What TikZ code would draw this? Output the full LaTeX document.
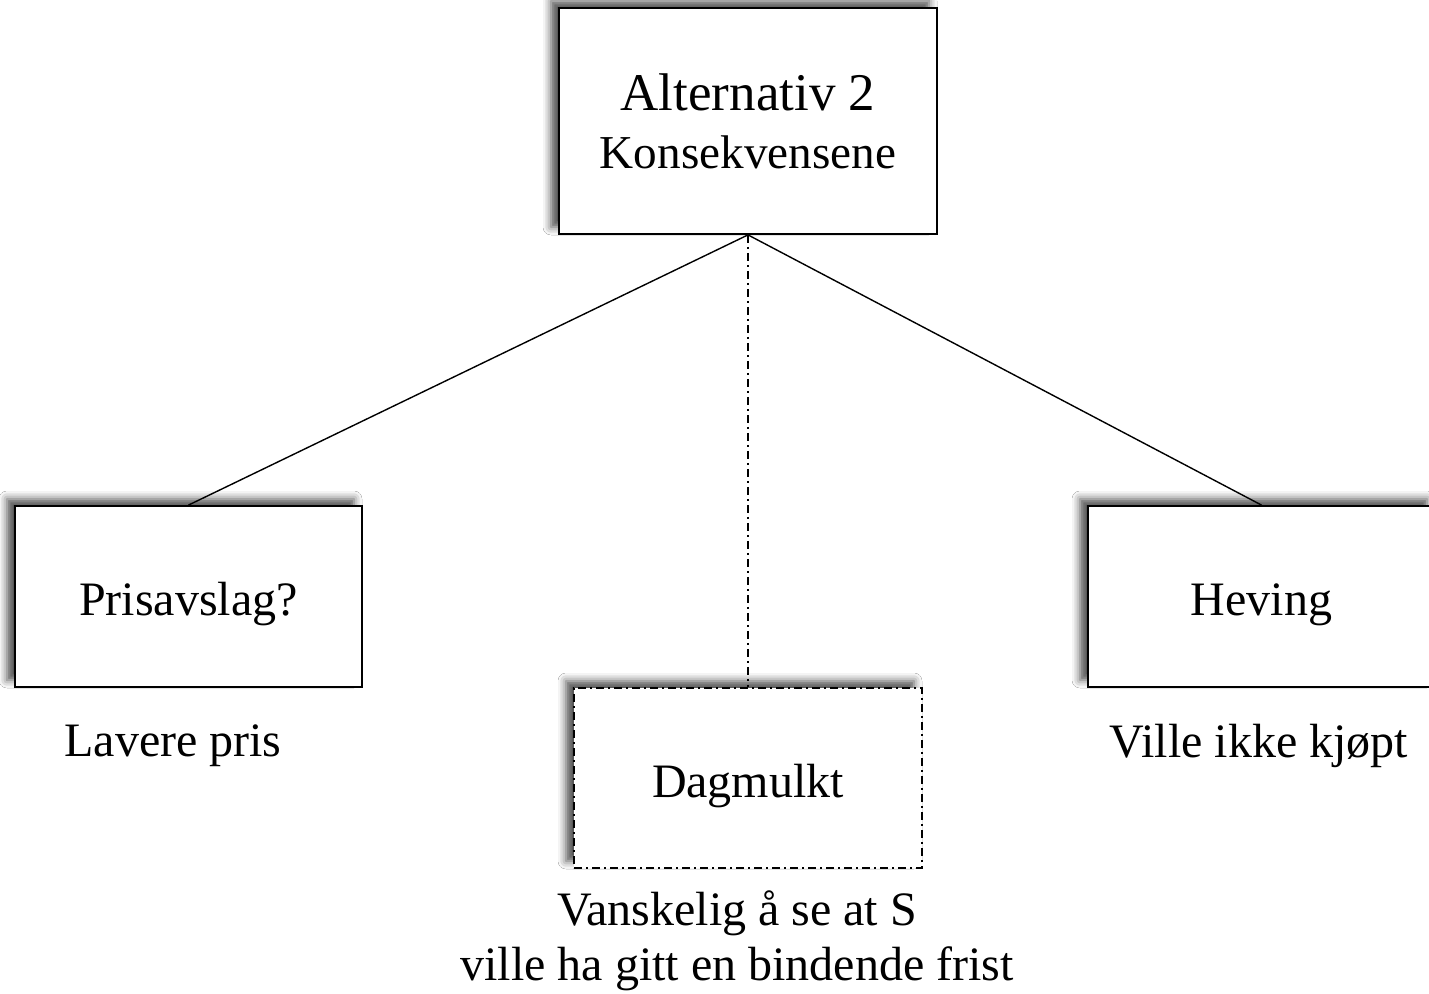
\documentclass[tikz,border=0pt]{standalone}
\usepackage{fontspec}
\setmainfont{Liberation Serif}
\usetikzlibrary{shadows.blur}
\begin{document}
\begin{tikzpicture}[x=0.5pt,y=-0.5pt,
  box/.style={draw=black,line width=0.9pt,fill=white,inner sep=0pt,
    minimum width=173.5pt,minimum height=90.5pt,align=center,
    font=\fontsize{24}{29}\selectfont,
    blur shadow={shadow xshift=-4pt,shadow yshift=3.5pt,shadow blur radius=4pt,shadow opacity=70}},
  oneline/.style={text height=20pt,text depth=1pt},
  label/.style={align=center,inner sep=0pt,font=\fontsize{24}{27.5}\selectfont},
  link/.style={draw=black,line width=0.7pt},
  dashdot/.style={dash pattern=on 4pt off 2pt on 1pt off 2pt}]
  \clip (0,0) rectangle (1429,994);
  \fill[white] (0,0) rectangle (1429,994);
  % top box
  \node[box,minimum width=189pt,minimum height=113pt] (top) at (748,121)
    {{\fontsize{26.5}{29}\selectfont Alternativ 2}\\{\fontsize{23.6}{29}\selectfont Konsekvensene}};
  % three consequences
  \node[box,oneline] (pris) at (188.5,596.5) {Prisavslag?};
  \node[box,oneline] (hev) at (1261.5,596.5) {Heving};
  \node[box,oneline,dashdot,minimum width=174pt,minimum height=90pt] (dag) at (748,778) {Dagmulkt};
  % connectors
  \draw[link] (top.south) -- (pris.north);
  \draw[link] (top.south) -- (hev.north);
  \draw[link,dashdot] (top.south) -- (dag.north);
  % comments under the boxes
  \node[label] (lp) at (173,746) {Lavere pris};
  \node[label] (vk) at (1259,746) {Ville ikke kjøpt};
  \node[label] (vs) at (737,941) {Vanskelig å se at S\\ville ha gitt en bindende frist};
\end{tikzpicture}
\end{document}
